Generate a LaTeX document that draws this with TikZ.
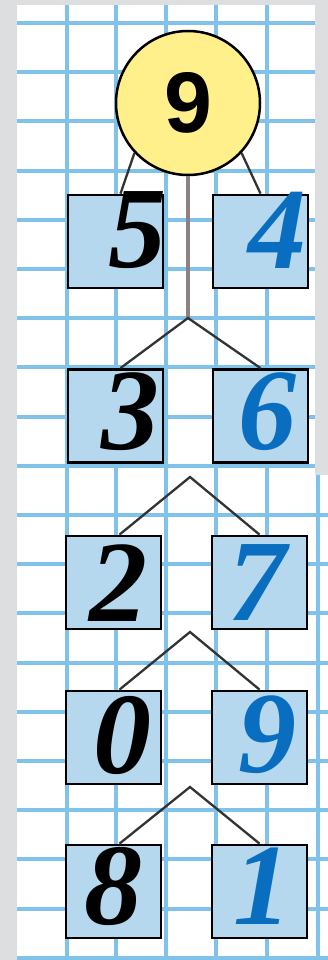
\documentclass[tikz,border=0pt]{standalone}
\usepackage{fontspec}
\setmainfont{Liberation Serif}
\newfontfamily\circfont{Liberation Sans}
\usetikzlibrary{positioning}
\definecolor{gridblue}{HTML}{80C2EA}
\definecolor{boxblue}{HTML}{B5D8EE}
\definecolor{sunyellow}{HTML}{FFF08C}
\definecolor{digitblue}{HTML}{0A6EC0}
\definecolor{edgegrey}{HTML}{DCDEE0}
\definecolor{stemgrey}{HTML}{8C8082}
\tikzset{
  numbox/.style={draw=black, line width=2.8pt, fill=boxblue,
    minimum width=95pt, minimum height=93pt, inner sep=0pt},
  bigdigit/.style={font=\fontsize{116}{116}\selectfont\bfseries\itshape,
    inner sep=0pt},
  branch/.style={line width=2.3pt, color=black!80},
  gridline/.style={gridblue, line width=4pt},
}

\begin{document}
\begin{tikzpicture}[x=1pt,y=-1pt]
  \useasboundingbox (0,0) rectangle (328,960);
  % paper
  \fill[edgegrey] (0,0) rectangle (328,960);
  \fill[white] (17,5) rectangle (315,475);
  \fill[white] (17,475) rectangle (328,960);
  % grid
  \foreach \x in {67,116,166,216,267}
    \draw[gridline] (\x,5) -- (\x,960);
  \draw[gridline] (318,475) -- (318,960);
  \foreach \k in {0,...,9}
    \draw[gridline] (17,{23+49.2*\k}) -- (315,{23+49.2*\k});
  \foreach \k in {10,...,19}
    \draw[gridline] (17,{23+49.2*\k}) -- (328,{23+49.2*\k});
  % the whole
  \node[circle, draw=black, line width=2.5pt, fill=sunyellow,
    minimum size=144pt, inner sep=0pt,
    font=\circfont\bfseries\fontsize{86}{86}\selectfont] (top) at (188,103) {9};
  % parts
  \foreach \i/\y/\xl/\xr in {1/241.5/115.5/260.5, 2/416/115.5/260.5,
      3/582.5/113.5/259.5, 4/737.5/113.5/259.5, 5/891.5/113.5/259.5}{
    \node[numbox] (L\i) at (\xl,\y) {};
    \node[numbox] (R\i) at (\xr,\y) {};
  }
  \foreach \i/\a/\xa/\b/\xb/\y in {1/5/137/4/277/230, 2/3/130/6/267/412,
      3/2/118/7/257/583, 4/0/122/9/267/735, 5/8/113/1/262/886}{
    \node[bigdigit] (dL\i) at (\xa,\y) {\a};
    \node[bigdigit, text=digitblue] (dR\i) at (\xb,\y) {\b};
  }
  % branches
  \draw[branch] (top.223) -- ([xshift=5pt]L1.north);
  \draw[branch] (top.317) -- (R1.north);
  \coordinate (fork1) at (188,318);
  \draw[stemgrey, line width=3.2pt] (top.south) -- (fork1);
  \draw[branch] ([xshift=5pt]L2.north) -- (fork1) -- (R2.north);
  \foreach \i/\j/\y in {2/3/477, 3/4/632, 4/5/787}{
    \coordinate (fork\i) at (190,\y);
    \draw[branch] ([xshift=6pt]L\j.north) -- (fork\i) -- (R\j.north);
  }
\end{tikzpicture}
\end{document}
